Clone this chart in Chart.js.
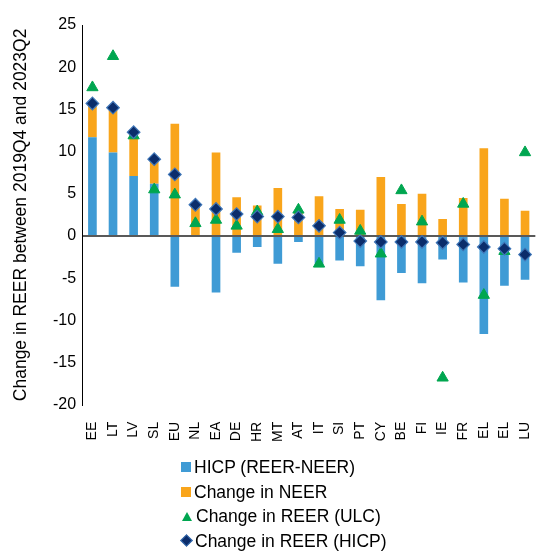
<!DOCTYPE html>
<html>
<head>
<meta charset="utf-8">
<script src="https://cdn.jsdelivr.net/npm/chart.js@4/dist/chart.umd.min.js"></script>
<style>
  html, body { margin: 0; padding: 0; background: #fff; }
  #wrap { position: relative; width: 551px; height: 551px; font-family: "Liberation Sans", Arial, sans-serif; }
  canvas { position: absolute; left: 0; top: 0; }
  #legend { position: absolute; left: 181px; top: 455px; font-size: 17.5px; color: #000; }
  .row { height: 24.5px; line-height: 24.5px; display: flex; align-items: center; white-space: nowrap; }
  .mk { display: inline-block; width: 11px; height: 11px; margin-right: 3px; position: relative; }
  .sq { width: 10px; height: 10px; }
  .tri { width: 0; height: 0; border-left: 5px solid transparent; border-right: 5px solid transparent; border-bottom: 9px solid #00A650; margin-left: 1px; margin-right: 4px; }
  .dia { width: 7px; height: 7px; background: #0B2D6B; border: 1px solid #3F76B8; transform: rotate(45deg); margin-left: 1px; margin-right: 4px; }
</style>
</head>
<body>
<div id="wrap">
  <canvas id="c" width="551" height="551"></canvas>
  <div id="legend"></div>
</div>
<script>
const categories = ['EE','LT','LV','SL','EU','NL','EA','DE','HR','MT','AT','IT','SI','PT','CY','BE','FI','IE','FR','EL','EL','LU'];
const hicpDiff = [11.7, 9.9, 7.1, 6.2, -6.0, 0, -6.7, -2.0, -1.3, -3.3, -0.7, -3.5, -2.9, -3.6, -7.6, -4.4, -5.6, -2.8, -5.5, -11.6, -5.9, -5.2];
const neerChange = [4.0, 5.3, 5.2, 2.9, 13.3, 3.7, 9.9, 4.6, 3.6, 5.7, 2.9, 4.7, 3.2, 3.1, 7.0, 3.8, 5.0, 2.0, 4.5, 10.4, 4.4, 3.0];
const reerUlc = [17.6, 21.3, 11.9, 5.5, 4.9, 1.5, 1.9, 1.2, 2.9, 0.8, 3.1, -3.3, 1.9, 0.6, -2.1, 5.4, 1.7, -16.8, 3.8, -7.0, -1.8, 9.9];
const reerHicp = [15.7, 15.2, 12.3, 9.1, 7.3, 3.7, 3.2, 2.6, 2.3, 2.3, 2.2, 1.2, 0.4, -0.6, -0.7, -0.7, -0.7, -0.8, -1.0, -1.3, -1.5, -2.2];
const yTicks = [-20, -15, -10, -5, 0, 5, 10, 15, 20, 25];
const seriesNames = ['HICP (REER-NEER)', 'Change in NEER', 'Change in REER (ULC)', 'Change in REER (HICP)'];

const BLUE = '#3F9BD5', ORANGE = '#F9A51B', GREEN = '#00A650', NAVY = '#0B2D6B';
const FONT = '"Liberation Sans", Arial, sans-serif';

new Chart(document.getElementById('c'), {
  data: {
    labels: categories,
    datasets: [
      { type: 'bar', label: seriesNames[0], data: hicpDiff, backgroundColor: BLUE, stack: 'bars', order: 2, barPercentage: 0.42, categoryPercentage: 1 },
      { type: 'bar', label: seriesNames[1], data: neerChange, backgroundColor: ORANGE, stack: 'bars', order: 3, barPercentage: 0.42, categoryPercentage: 1 },
      { type: 'line', label: seriesNames[2], data: reerUlc, showLine: false, stack: 'ulc', order: 1,
        pointStyle: 'triangle', pointRadius: 6.5, pointBackgroundColor: GREEN, pointBorderColor: GREEN, pointBorderWidth: 1 },
      { type: 'line', label: seriesNames[3], data: reerHicp, showLine: false, stack: 'hicp', order: 0,
        pointStyle: 'rectRot', pointRadius: 6.3, pointBackgroundColor: NAVY, pointBorderColor: '#3F76B8', pointBorderWidth: 1.2 }
    ]
  },
  options: {
    responsive: false,
    animation: false,
    layout: { padding: { top: 25, left: 11, right: 0, bottom: 100 } },
    plugins: { legend: { display: false }, tooltip: { enabled: false } },
    scales: {
      x: {
        stacked: true,
        grid: { display: false },
        border: { display: false },
        ticks: { color: '#000', font: { family: FONT, size: 14 }, minRotation: 90, maxRotation: 90, autoSkip: false, padding: 9 }
      },
      y: {
        stacked: true,
        min: yTicks[0], max: yTicks[yTicks.length - 1],
        afterBuildTicks: (s) => { s.ticks = yTicks.map(v => ({ value: v })); },
        ticks: { color: '#000', font: { family: FONT, size: 16 }, padding: 6 },
        grid: { drawTicks: false, color: (ctx) => (ctx.tick && ctx.tick.value === 0 ? '#595959' : 'rgba(0,0,0,0)'), lineWidth: 2 },
        border: { display: true, color: '#000', width: 1 },
        title: { display: true, text: 'Change in REER between 2019Q4 and 2023Q2', color: '#000', font: { family: FONT, size: 17.5 }, padding: { top: 0, bottom: 15 } }
      }
    }
  }
});

const legend = document.getElementById('legend');
const markers = ['<span class="mk sq" style="background:' + BLUE + '"></span>',
                 '<span class="mk sq" style="background:' + ORANGE + '"></span>',
                 '<span class="mk tri"></span>',
                 '<span class="mk dia"></span>'];
seriesNames.forEach((n, i) => {
  const r = document.createElement('div');
  r.className = 'row';
  r.innerHTML = markers[i] + '<span>' + n + '</span>';
  legend.appendChild(r);
});
</script>
</body>
</html>
